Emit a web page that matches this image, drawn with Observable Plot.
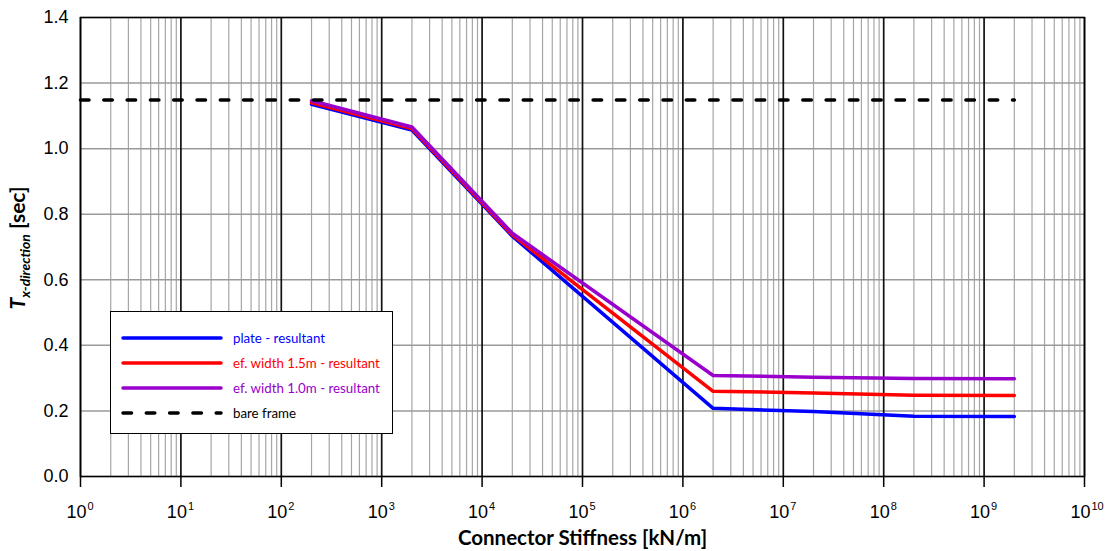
<!DOCTYPE html>
<html><head><meta charset="utf-8">
<script src="https://cdn.jsdelivr.net/npm/d3@7"></script>
<script src="https://cdn.jsdelivr.net/npm/@observablehq/plot@0.6"></script>
<style>
body{margin:0;background:#fff}
#wrap{position:relative;width:1108px;height:551px}
#legend{position:absolute;left:110px;top:311px;width:281px;height:121px;border:1px solid #000;background:#fff;font-family:Lato,"Noto Sans",sans-serif;font-size:13.3px}
.row{position:absolute;left:10px;height:20px;display:flex;align-items:center}
.row span{margin-left:10px;white-space:nowrap}
</style>
</head><body><div id="wrap"></div>
<script>
// ---- data ----
const stiffness = [2e2, 2e3, 2e4, 2e6, 2e7, 2e8, 2e9];
const plateResultant = [1.135, 1.057, 0.733, 0.208, 0.198, 0.184, 0.183];
const efWidth15Resultant = [1.140, 1.061, 0.737, 0.260, 0.255, 0.248, 0.247];
const efWidth10Resultant = [1.146, 1.066, 0.742, 0.308, 0.303, 0.299, 0.298];
const bareFrameX = [1, 2e9];
const bareFrameY = [1.148, 1.148];
const seriesNames = ["plate - resultant", "ef. width 1.5m - resultant", "ef. width 1.0m - resultant", "bare frame"];
const seriesColors = ["#0000ff", "#ff0000", "#9900cc", "#000000"];
const decadeTicks = [1, 1e1, 1e2, 1e3, 1e4, 1e5, 1e6, 1e7, 1e8, 1e9, 1e10];
const yTicks = [0, 0.2, 0.4, 0.6, 0.8, 1.0, 1.2, 1.4];
const xTitle = "Connector Stiffness [kN/m]";

// ---- build tables ----
const minorTicks = [];
for (const d of decadeTicks.slice(0, -1)) for (let m = 2; m <= 9; m++) minorTicks.push(d * m);
const seriesValues = [plateResultant, efWidth15Resultant, efWidth10Resultant];
const lineRows = seriesValues.flatMap((vals, i) => vals.map((v, j) => ({x: stiffness[j], y: v, s: seriesNames[i]})));
const bareRows = bareFrameX.map((x, i) => ({x, y: bareFrameY[i]}));

const tickFont = "Liberation Sans, Arial, sans-serif";

const chart = Plot.plot({
  width: 1108, height: 551,
  marginLeft: 80, marginRight: 24, marginTop: 17, marginBottom: 75,
  style: {fontFamily: tickFont, fontSize: "18px", background: "#fff", color: "#000"},
  x: {type: "log", domain: [1, 1e10]},
  y: {domain: [0, 1.4]},
  color: {domain: seriesNames.slice(0, 3), range: seriesColors.slice(0, 3)},
  marks: [
    Plot.ruleX(minorTicks, {x: d => d, stroke: "#a6a6a6", strokeWidth: 1.2}),
    Plot.ruleY(yTicks, {y: d => d, stroke: "#9a9a9a", strokeWidth: 1.5}),
    Plot.ruleX(decadeTicks, {x: d => d, stroke: "#111", strokeWidth: 1.7}),
    Plot.frame({stroke: "#000", strokeWidth: 1.5}),
    Plot.axisX({ticks: decadeTicks, tickSize: 11, tickFormat: () => "", label: null, strokeWidth: 1.5}),
    Plot.text(decadeTicks, {x: d => d, frameAnchor: "bottom", text: () => "10", textAnchor: "end", dx: 6, dy: 41, lineAnchor: "bottom", fontSize: 18, fontFamily: tickFont}),
    Plot.text(decadeTicks, {x: d => d, frameAnchor: "bottom", text: d => String(Math.round(Math.log10(d))), textAnchor: "start", dx: 7, dy: 33, lineAnchor: "bottom", fontSize: 11, fontFamily: tickFont}),
    Plot.axisY({ticks: yTicks, tickSize: 0, tickPadding: 12, tickFormat: d => d.toFixed(1), label: null, fontSize: 18}),
    Plot.text([xTitle], {frameAnchor: "bottom", text: d => d, dy: 68, lineAnchor: "bottom", fontFamily: "Lato, sans-serif", fontWeight: "bold", fontSize: 20.5}),
    Plot.line(lineRows, {x: "x", y: "y", z: "s", stroke: "s", strokeWidth: 3.5, strokeLinejoin: "round"}),
    Plot.line(bareRows, {x: "x", y: "y", stroke: "#000", strokeWidth: 3.5, strokeDasharray: "8.5,14.8", strokeLinecap: "round"})
  ]
});

// y-axis title with subscript
const svg = d3.select(chart);
const yt = svg.append("text")
  .attr("transform", "translate(25,248) rotate(-90)")
  .attr("text-anchor", "middle")
  .attr("font-family", "Lato, sans-serif")
  .attr("font-weight", "bold")
  .attr("fill", "#000");
yt.append("tspan").attr("font-size", 21).attr("font-style", "italic").text("T");
yt.append("tspan").attr("font-size", 14).attr("font-style", "italic").attr("dy", 5).text("x-direction");
yt.append("tspan").attr("font-size", 21).attr("dy", -5).text(" [sec]");

const wrap = document.getElementById("wrap");
wrap.appendChild(chart);

// legend
const legend = document.createElement("div");
legend.id = "legend";
seriesNames.forEach((name, i) => {
  const row = document.createElement("div");
  row.className = "row";
  row.style.top = (16 + i * 25) + "px";
  const dash = i === 3 ? 'stroke-dasharray="8.5,14.8"' : "";
  row.innerHTML = `<svg width="102" height="10"><line x1="2" y1="5" x2="100" y2="5" stroke="${seriesColors[i]}" stroke-width="3.5" stroke-linecap="round" ${dash}/></svg><span style="color:${seriesColors[i]}">${name}</span>`;
  legend.appendChild(row);
});
wrap.appendChild(legend);
</script>
</body></html>
